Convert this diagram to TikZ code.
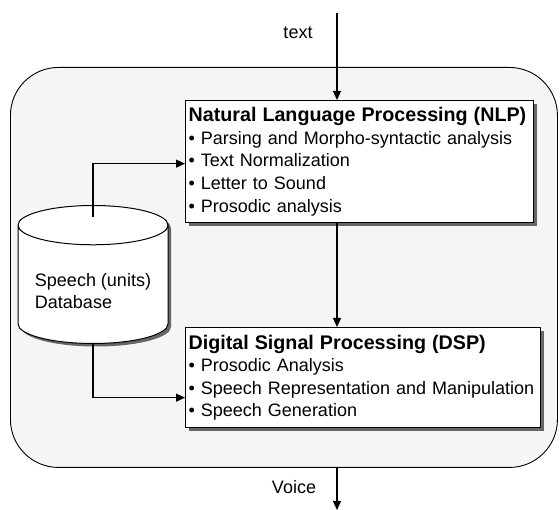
\documentclass[tikz,border=0pt]{standalone}
\usepackage{fontspec}
\setmainfont{Liberation Sans}
\usetikzlibrary{shapes,arrows.meta,positioning,calc,shadows}

\begin{document}
\begin{tikzpicture}[x=1pt, y=-1pt, >={Triangle[length=9pt,width=8pt]},
    every node/.style={font=\fontsize{18}{22.6}\selectfont},
    stage/.style={draw, line width=1.3pt, fill=white, anchor=north west, align=left,
      inner xsep=3pt, inner ysep=1pt,
      drop shadow={shadow xshift=3pt, shadow yshift=-3pt, fill=black!60, opacity=1}},
    link/.style={->, line width=1.2pt}]
    \useasboundingbox (0,0) rectangle (560,510);

    % Outer frame
    \node[draw, line width=0.9pt, fill=black!4, rounded corners=48pt, anchor=north west,
      minimum width=547pt, minimum height=400pt] (frame) at (10,67) {};

    % NLP
    \node[stage, text width=342pt, minimum height=122pt] (nlp) at (185,100)
      {{\fontsize{19.7}{22.6}\selectfont\bfseries Natural Language Processing (NLP)}\\
       \textbullet\ Parsing and Morpho-syntactic analysis\\
       \textbullet\ Text Normalization\\
       \textbullet\ Letter to Sound\\
       \textbullet\ Prosodic analysis};

    % DSP
    \node[stage, text width=349pt, minimum height=100pt] (dsp) at (185,327)
      {{\fontsize{19.7}{22.6}\selectfont\bfseries Digital Signal Processing (DSP)}\\
       \textbullet\ Prosodic Analysis\\
       \textbullet\ Speech Representation and Manipulation\\
       \textbullet\ Speech Generation};

    % Database
    \node[draw, cylinder, shape border rotate=90, aspect=0.32, line width=1pt, fill=white,
      minimum width=150pt, minimum height=138pt, anchor=north,
      drop shadow={shadow xshift=3pt, shadow yshift=-3pt, fill=black!60, opacity=1}]
      (db) at (93,205)
      {\raisebox{-10pt}[0pt][0pt]{\begin{tabular}{@{}l@{}}Speech (units)\\Database\end{tabular}}};

    % In / out
    \coordinate (in) at (337,13);
    \coordinate (out) at (337,510);
    \node (textlbl) at (298,33) {text};
    \node (voicelbl) at (294,487) {Voice};

    \draw[link] (in) -- (in |- nlp.north);
    \draw[link] (in |- nlp.south) -- (in |- dsp.north);
    \draw[link] (in |- frame.south) -- (out);
    \draw[link] ([yshift=-12pt]db.top) |- ([yshift=-2pt]nlp.west);
    \draw[link] (db.bottom) |- ([yshift=-20pt]dsp.west);
\end{tikzpicture}
\end{document}
